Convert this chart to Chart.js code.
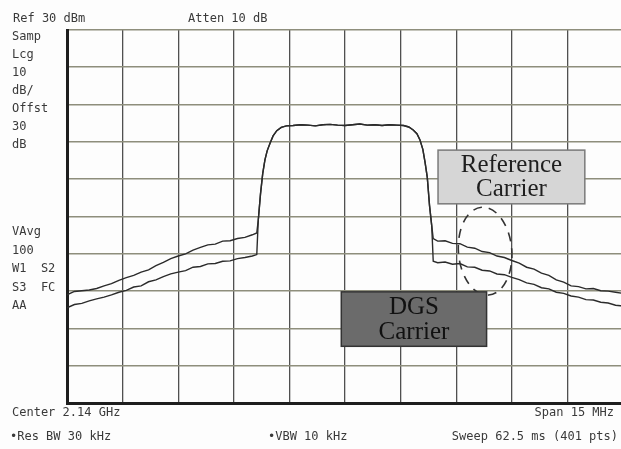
<!DOCTYPE html>
<html lang="en">
  <head>
    <meta charset="UTF-8" />
    <title>Spectrum - DGS carrier</title>
    <script src="https://cdn.jsdelivr.net/npm/chart.js"></script>
    <style>
      body {
        margin: 0;
        background: #fdfdfd;
      }
      .wrap {
        width: 621px;
        height: 449px;
        overflow: hidden;
      }
    </style>
  </head>
  <body>
    <div class="wrap">
      <canvas id="myChart" width="640" height="449"></canvas>
    </div>
    <script>
      // offset from centre (MHz), 1.5 MHz / div, span 15 MHz
      let freqs = [
        -7.5, -7.3, -7.1, -6.9, -6.7, -6.5, -6.3, -6.1, -5.9, -5.7, -5.5, -5.3, -5.1, -4.9,
        -4.7, -4.5, -4.3, -4.1, -3.9, -3.7, -3.5, -3.3, -3.1, -2.9, -2.7, -2.5, -2.38,
        -2.34, -2.28, -2.22, -2.16, -2.1, -2.02, -1.94, -1.84, -1.72, -1.58,
        -1.4, -1.2, -1.0, -0.8, -0.6, -0.4, -0.2, 0, 0.2, 0.4, 0.6, 0.8, 1.0, 1.2, 1.4, 1.58,
        1.72, 1.84, 1.94, 2.02, 2.1, 2.16, 2.22, 2.28, 2.34,
        2.38, 2.5, 2.7, 2.9, 3.1, 3.3, 3.5, 3.7, 3.9, 4.1, 4.3, 4.5, 4.7, 4.9,
        5.1, 5.3, 5.5, 5.7, 5.9, 6.1, 6.3, 6.5, 6.7, 6.9, 7.1, 7.3, 7.5,
      ];

      // dBm, upper trace
      let upperTrace = [
        -41.0, -40.1, -39.9, -39.7, -39.3, -38.6, -38.0, -37.1, -36.4, -35.8, -34.9, -34.3, -33.2, -32.3,
        -31.3, -30.6, -30.0, -29.0, -28.3, -27.6, -27.4, -26.6, -26.5, -25.9, -25.6, -24.9, -24.4,
        -21.0, -14.0, -8.5, -4.8, -2.4, -0.3, 1.6, 3.0, 3.9, 4.3,
        4.4, 4.6, 4.5, 4.3, 4.6, 4.7, 4.5, 4.4, 4.6, 4.8, 4.5, 4.6, 4.4, 4.6, 4.5, 4.4,
        4.0, 3.2, 2.2, 0.6, -2.0, -5.5, -9.5, -17.0, -22.5,
        -25.9, -26.6, -26.5, -27.2, -27.3, -28.2, -28.5, -29.4, -29.7, -30.6, -31.0, -31.8, -32.5, -33.6,
        -34.1, -35.2, -35.8, -37.0, -37.6, -38.6, -38.8, -39.4, -39.3, -39.9, -40.0, -40.3, -40.6,
      ];

      // dBm, lower trace
      let lowerTrace = [
        -44.5, -43.6, -43.3, -42.6, -42.1, -41.6, -41.0, -40.3, -39.8, -38.9, -38.6, -37.5, -37.0, -36.1,
        -35.4, -34.9, -34.5, -33.6, -33.4, -32.7, -32.6, -32.0, -31.9, -31.3, -31.0, -30.6, -30.2,
        -21.0, -14.0, -8.5, -4.8, -2.4, -0.3, 1.6, 3.0, 3.9, 4.3,
        4.4, 4.6, 4.5, 4.3, 4.6, 4.7, 4.5, 4.4, 4.6, 4.8, 4.5, 4.6, 4.4, 4.6, 4.5, 4.4,
        4.0, 3.2, 2.2, 0.6, -2.0, -5.5, -9.5, -17.0, -22.5,
        -32.0, -32.4, -32.2, -32.8, -32.6, -33.5, -33.6, -34.4, -34.6, -35.4, -35.6, -36.3, -36.9, -37.8,
        -38.2, -39.1, -39.4, -40.3, -40.6, -41.3, -41.6, -42.3, -42.4, -43.0, -43.2, -43.8, -44.0,
      ];

      let sideLabels = ["Samp", "Lcg", "10", "dB/", "Offst", "30", "dB"];
      let sideLabels2 = ["VAvg", "100", "W1  S2", "S3  FC", "AA"];

      function drawBox(ctx, x1, y1, x2, y2, fill, stroke, lines, textColor) {
        ctx.fillStyle = fill;
        ctx.fillRect(x1, y1, x2 - x1, y2 - y1);
        ctx.strokeStyle = stroke;
        ctx.lineWidth = 1.5;
        ctx.strokeRect(x1, y1, x2 - x1, y2 - y1);
        ctx.fillStyle = textColor;
        ctx.font = "25px 'Liberation Serif'";
        ctx.textAlign = "center";
        ctx.textBaseline = "middle";
        let cx = (x1 + x2) / 2;
        let h = y2 - y1;
        ctx.fillText(lines[0], cx, y1 + h * 0.29);
        ctx.fillText(lines[1], cx, y1 + h * 0.74);
      }

      const screenText = {
        id: "screenText",
        afterDraw(chart) {
          const ctx = chart.ctx;
          const xs = chart.scales.x;
          const ys = chart.scales.y;
          ctx.save();

          // analyser annotations
          ctx.fillStyle = "#3a3a3a";
          ctx.font = "12px 'DejaVu Sans Mono'";
          ctx.textBaseline = "middle";
          ctx.textAlign = "left";
          ctx.fillText("Ref 30 dBm", 13, 19);
          ctx.fillText("Atten 10 dB", 188, 19);
          sideLabels.forEach((t, i) => ctx.fillText(t, 12, 37 + i * 18));
          sideLabels2.forEach((t, i) => ctx.fillText(t, 12, 232 + i * 18.5));
          ctx.fillText("Center 2.14 GHz", 12, 413);
          ctx.fillText("\u2022Res BW 30 kHz", 10, 437);
          ctx.fillText("\u2022VBW 10 kHz", 268, 437);
          ctx.textAlign = "right";
          ctx.fillText("Span 15 MHz", 614, 413);
          ctx.fillText("Sweep 62.5 ms (401 pts)", 618, 437);

          // dashed loop round the adjacent channel
          let ex = xs.getPixelForValue(3.78);
          let ey = ys.getPixelForValue(-29.3);
          let rx = xs.getPixelForValue(3.78 + 0.72) - ex;
          let ry = ys.getPixelForValue(-29.3 - 11.8) - ey;
          ctx.strokeStyle = "#333";
          ctx.lineWidth = 1.6;
          ctx.setLineDash([9, 7]);
          ctx.beginPath();
          ctx.ellipse(ex, ey, rx, ry, -0.08, 0, Math.PI * 2);
          ctx.stroke();
          ctx.setLineDash([]);

          drawBox(
            ctx,
            xs.getPixelForValue(2.51), ys.getPixelForValue(-2.2),
            xs.getPixelForValue(6.47), ys.getPixelForValue(-16.6),
            "#d6d6d6", "#7a7a7a", ["Reference", "Carrier"], "#1e1e1e"
          );
          drawBox(
            ctx,
            xs.getPixelForValue(-0.1), ys.getPixelForValue(-40.2),
            xs.getPixelForValue(3.82), ys.getPixelForValue(-54.8),
            "#6b6b6b", "#333", ["DGS", "Carrier"], "#111"
          );
          ctx.restore();
        },
      };

      function toPoints(levels) {
        return freqs.map((f, i) => ({ x: f, y: levels[i] }));
      }

      const ctx = document.getElementById("myChart");

      new Chart(ctx, {
        type: "line",
        data: {
          datasets: [
            {
              label: "Reference",
              data: toPoints(upperTrace),
              borderColor: "#2b2b2b",
              borderWidth: 1.4,
              pointRadius: 0,
              tension: 0,
            },
            {
              label: "DGS",
              data: toPoints(lowerTrace),
              borderColor: "#2b2b2b",
              borderWidth: 1.4,
              pointRadius: 0,
              tension: 0,
            },
          ],
        },
        options: {
          responsive: false,
          animation: false,
          events: [],
          layout: {
            padding: { left: 67, right: 17, top: 30, bottom: 46 },
          },
          plugins: {
            legend: { display: false },
            tooltip: { enabled: false },
          },
          scales: {
            x: {
              type: "linear",
              min: -7.5,
              max: 7.5,
              ticks: { display: false, stepSize: 1.5 },
              grid: { color: "#505050", lineWidth: 1.3, drawTicks: false },
              border: { display: true, color: "#1e1e1e", width: 3 },
            },
            y: {
              min: -70,
              max: 30,
              ticks: { display: false, stepSize: 10 },
              grid: { color: "#8e8e7c", lineWidth: 1.6, drawTicks: false },
              border: { display: true, color: "#1e1e1e", width: 3 },
            },
          },
        },
        plugins: [screenText],
      });
    </script>
  </body>
</html>
